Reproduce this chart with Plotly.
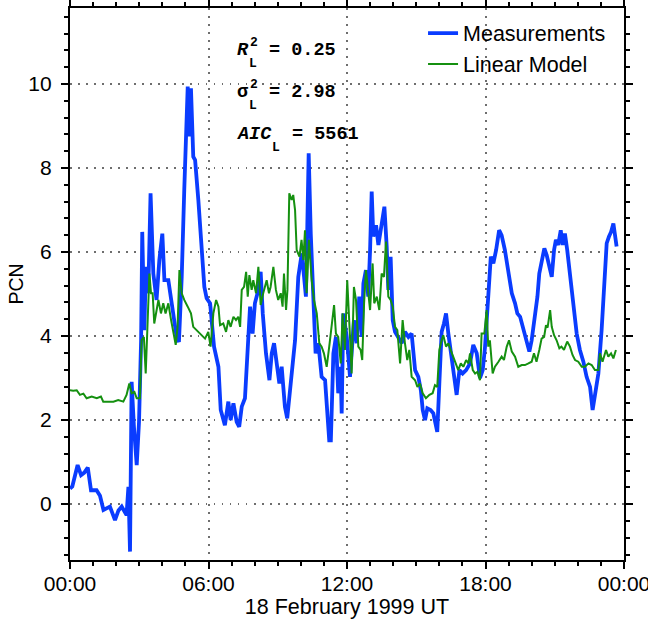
import pandas as pd
import plotly.graph_objects as go

# ---------------- data ----------------
meas_hours = [0.0, 0.1, 0.33, 0.48, 0.62, 0.77, 0.91, 1.15, 1.3, 1.45, 1.73, 1.95, 2.1, 2.24, 2.45, 2.53,
              2.6, 2.67, 2.77, 2.89, 2.99, 3.08, 3.13, 3.22, 3.29, 3.39, 3.49, 3.61, 3.75, 3.87, 4.0,
              4.09, 4.26, 4.38, 4.48, 4.62, 4.72, 4.84, 4.95, 5.1, 5.17, 5.24, 5.34, 5.42, 5.56, 5.7,
              5.82, 5.92, 6.07, 6.24, 6.43, 6.53, 6.71, 6.86, 6.96, 7.08, 7.22, 7.33, 7.44, 7.58, 7.65,
              7.8, 7.91, 8.01, 8.16, 8.26, 8.35, 8.49, 8.64, 8.74, 8.84, 8.95, 9.07, 9.17, 9.31, 9.41,
              9.53, 9.75, 9.89, 10.04, 10.14, 10.22, 10.28, 10.34, 10.43, 10.54, 10.64, 10.76, 10.9,
              11.05, 11.15, 11.23, 11.3, 11.41, 11.52, 11.62, 11.72, 11.77, 11.84, 11.99, 12.13, 12.2,
              12.3, 12.42, 12.53, 12.64, 12.71, 12.82, 12.92, 13.0, 13.07, 13.14, 13.26, 13.36, 13.46,
              13.53, 13.62, 13.72, 13.79, 13.89, 13.98, 14.08, 14.22, 14.37, 14.51, 14.66, 14.8, 14.95,
              15.09, 15.2, 15.28, 15.38, 15.48, 15.62, 15.74, 15.86, 15.91, 16.0, 16.1, 16.2, 16.29,
              16.39, 16.49, 16.61, 16.75, 16.87, 17.01, 17.16, 17.33, 17.47, 17.62, 17.76, 17.88, 17.98,
              18.12, 18.23, 18.34, 18.46, 18.59, 18.7, 18.84, 18.99, 19.14, 19.28, 19.38, 19.5, 19.61,
              19.76, 19.9, 20.0, 20.1, 20.19, 20.25, 20.33, 20.43, 20.55, 20.65, 20.75, 20.87, 20.97,
              21.05, 21.15, 21.26, 21.34, 21.44, 21.54, 21.66, 21.8, 21.95, 22.09, 22.24, 22.38, 22.53,
              22.64, 22.74, 22.89, 23.03, 23.13, 23.25, 23.35, 23.44, 23.54, 23.61, 23.68]
meas_pcn = [0.37, 0.42, 0.93, 0.69, 0.75, 0.87, 0.33, 0.33, 0.2, -0.14, -0.06, -0.38, -0.15, -0.06, -0.26, 0.41,
            -1.13, 2.91, 1.84, 0.93, 1.96, 3.9, 6.48, 4.14, 5.65, 5.02, 7.4, 5.49, 4.86, 5.81, 6.44,
            5.33, 5.33, 4.86, 4.54, 3.98, 3.86, 5.41, 7.48, 9.94, 8.75, 9.9, 8.27, 8.19, 7.24, 6.13,
            5.17, 4.9, 4.78, 3.75, 3.27, 2.24, 1.88, 2.44, 2.0, 2.4, 1.96, 1.84, 2.32, 2.52, 3.27,
            4.7, 4.06, 4.78, 5.1, 5.53, 4.54, 3.59, 2.95, 3.59, 3.83, 3.43, 2.87, 3.27, 2.32, 2.04,
            2.64, 3.9, 5.41, 5.97, 5.41, 4.94, 6.6, 8.35, 6.44, 5.02, 3.59, 3.83, 3.03,
            2.95, 2.16, 1.52, 1.52, 3.59, 3.98, 2.64, 3.27, 2.16, 4.54, 3.98, 3.03, 3.67,
            4.38, 3.83, 4.94, 3.98, 5.25, 5.57, 4.94, 6.05, 7.44, 6.37, 6.64, 6.17, 6.52,
            6.76, 7.08, 6.13, 5.1, 5.89, 4.38, 4.1, 3.98, 3.83, 4.1, 3.98, 4.06, 3.19,
            3.03, 2.71, 2.24, 2.0, 2.28, 2.24, 2.16, 1.84, 1.72, 2.87, 4.1, 4.3, 4.54,
            4.06, 3.67, 3.27, 2.6, 3.19, 3.11, 3.19, 3.35, 3.79, 3.59, 3.0, 3.19, 3.75,
            5.1, 5.89, 5.73, 6.05, 6.52, 6.4, 6.05, 5.49, 5.02, 4.78, 4.54, 4.46, 4.22,
            3.98, 3.63, 3.9, 4.3, 4.54, 4.94, 5.49, 5.81, 6.09, 5.93, 5.65, 5.41, 6.05,
            6.29, 6.17, 6.52, 6.17, 6.44, 6.05, 5.41, 4.7, 4.06, 3.67, 3.39, 3.03, 2.79,
            2.24, 2.55, 3.11, 4.14, 5.1, 6.21, 6.37, 6.48, 6.68, 6.44, 6.13]

model_hours = [0.0, 0.14, 0.29, 0.43, 0.58, 0.72, 0.94, 1.16, 1.34, 1.44, 1.66, 1.88, 2.09, 2.31, 2.45, 2.57,
               2.67, 2.79, 2.89, 3.03, 3.1, 3.2, 3.28, 3.37, 3.44, 3.51, 3.58, 3.65, 3.73, 3.83, 3.94,
               4.04, 4.14, 4.26, 4.38, 4.48, 4.58, 4.66, 4.74, 4.84, 4.95, 5.1, 5.24, 5.34, 5.49, 5.63,
               5.85, 5.99, 6.09, 6.21, 6.33, 6.43, 6.5, 6.64, 6.76, 6.86, 6.96, 7.08, 7.19, 7.29, 7.37,
               7.44, 7.54, 7.63, 7.7, 7.77, 7.87, 7.94, 8.06, 8.16, 8.26, 8.37, 8.52, 8.62, 8.69, 8.81,
               8.92, 9.02, 9.13, 9.21, 9.27, 9.36, 9.42, 9.5, 9.6, 9.67, 9.75, 9.82, 9.94, 10.03, 10.11,
               10.18, 10.25, 10.35, 10.47, 10.57, 10.69, 10.8, 10.9, 11.0, 11.12, 11.23, 11.34, 11.44,
               11.52, 11.62, 11.73, 11.81, 11.91, 12.01, 12.13, 12.2, 12.3, 12.39, 12.49, 12.59, 12.66,
               12.74, 12.82, 12.92, 13.0, 13.11, 13.18, 13.29, 13.4, 13.5, 13.6, 13.69, 13.79, 13.89,
               13.98, 14.08, 14.18, 14.3, 14.41, 14.51, 14.61, 14.7, 14.8, 14.95, 15.05, 15.16, 15.28,
               15.42, 15.57, 15.71, 15.81, 15.91, 16.0, 16.1, 16.17, 16.29, 16.39, 16.49, 16.61, 16.72,
               16.82, 16.93, 17.04, 17.16, 17.26, 17.33, 17.45, 17.55, 17.65, 17.76, 17.83, 17.95, 18.05,
               18.12, 18.19, 18.31, 18.41, 18.56, 18.7, 18.8, 18.92, 19.02, 19.14, 19.28, 19.42, 19.57,
               19.71, 19.86, 20.0, 20.1, 20.21, 20.33, 20.43, 20.54, 20.62, 20.69, 20.8, 20.87, 20.97,
               21.08, 21.2, 21.29, 21.4, 21.54, 21.66, 21.77, 21.88, 22.02, 22.17, 22.31, 22.46, 22.6,
               22.74, 22.89, 22.96, 23.07, 23.22, 23.32, 23.44, 23.54, 23.65]
model_pcn = [2.71, 2.7, 2.71, 2.6, 2.63, 2.52, 2.56, 2.52, 2.56, 2.44, 2.44, 2.44, 2.48, 2.44, 2.6, 2.87,
             2.64, 2.67, 2.52, 2.52, 3.9, 3.98, 3.11, 4.54, 5.49, 5.02, 5.02, 4.3, 4.54, 4.86, 4.54,
             4.78, 4.54, 4.78, 4.38, 4.06, 3.79, 4.22, 5.57, 5.02, 4.86, 4.7, 4.54, 4.22, 4.14, 4.06,
             3.94, 4.1, 3.75, 4.54, 4.86, 4.7, 4.26, 4.3, 4.1, 4.38, 4.22, 4.46, 4.38, 4.46, 4.22,
             5.1, 5.17, 5.53, 4.94, 5.45, 5.1, 5.33, 5.02, 5.65, 4.74, 5.02, 5.33, 5.02, 5.17, 5.65,
             5.1, 4.86, 5.02, 4.7, 5.49, 4.62, 5.1, 7.4, 7.24, 7.36, 7.0, 6.05, 5.89, 6.29, 5.81,
             6.52, 5.02, 6.29, 5.33, 4.86, 4.54, 3.83, 3.75, 3.59, 3.27, 3.75, 4.22, 4.74,
             4.06, 3.98, 3.35, 4.54, 3.67, 5.33, 3.98, 3.11, 5.17, 4.86, 3.75, 3.67, 3.43,
             4.78, 5.57, 5.1, 4.62, 5.73, 4.78, 4.94, 4.62, 5.49, 5.41, 6.25, 4.94, 4.86,
             4.7, 4.22, 4.14, 3.35, 4.38, 3.83, 3.43, 3.67, 3.03, 2.95, 2.79, 2.87, 2.64,
             2.52, 2.6, 2.64, 2.83, 2.79, 3.67, 3.9, 4.02, 3.75, 3.83, 3.67, 3.51, 3.35,
             3.19, 3.35, 3.27, 3.43, 3.35, 3.59, 3.19, 3.11, 3.15, 2.95, 4.06, 4.06, 4.62,
             3.75, 3.9, 3.11, 3.27, 3.39, 3.51, 3.43, 3.75, 3.9, 3.63, 3.51, 3.27, 3.31,
             3.31, 3.35, 3.39, 3.59, 3.39, 3.67, 3.94, 3.98, 4.26, 4.2, 4.62, 4.22, 4.02,
             3.9, 3.71, 3.75, 3.67, 3.87, 3.75, 3.55, 3.43, 3.39, 3.27, 3.27, 3.35, 3.31,
             3.19, 3.19, 3.59, 3.39, 3.67, 3.51, 3.59, 3.47, 3.67]

day_start = "1999-02-18 00:00"
day_end = "1999-02-19 00:00"
series_names = ["Measurements", "Linear Model"]
stat_symbols = ["<i>R</i>", "σ", "<i>AIC</i>"]
stat_values = ["0.25", "2.98", "5561"]
x_title = "18 February 1999 UT"
y_title = "PCN"

base = pd.Timestamp(day_start)
meas_t = base + pd.to_timedelta(meas_hours, unit="h")
model_t = base + pd.to_timedelta(model_hours, unit="h")

fig = go.Figure()
fig.add_trace(go.Scatter(x=meas_t, y=meas_pcn, mode="lines", name=series_names[0],
                         line=dict(color="#0a3cff", width=3.8)))
fig.add_trace(go.Scatter(x=model_t, y=model_pcn, mode="lines", name=series_names[1],
                         line=dict(color="#159010", width=2)))

# plot-area geometry in pixels (for annotation placement)
L, R, T, B = 70, 624, 8, 560
def px(xp, yp):
    return (xp - L) / (R - L), (B - yp) / (B - T)

mono = "Liberation Mono, Courier New, monospace"
ann = []
def add_text(text, xp, yp, size):
    ax, ay = px(xp, yp)
    ann.append(dict(x=ax, y=ay, xref="paper", yref="paper", xanchor="left", yanchor="middle",
                    showarrow=False, text=f"<b>{text}</b>",
                    font=dict(family=mono, size=size, color="black")))

# symbol glyph-center y, x of subscript, x of the "= value" part, has squared superscript
rows = [(50, 247, 267, True), (92, 247, 267, True), (134, 270, 290, False)]
for sym, val, (cy, sub_x, eq_x, sq) in zip(stat_symbols, stat_values, rows):
    add_text(sym, 235, cy, 18.5)
    add_text("L", sub_x, cy + 13, 13)
    if sq:
        add_text("2", sub_x + 1, cy - 7, 13)
    add_text(f"= {val}", eq_x, cy, 18.5)

axis_common = dict(showline=True, linecolor="black", linewidth=2.2, mirror="ticks",
                   ticks="outside", ticklen=7, tickwidth=2, tickcolor="black",
                   showgrid=True, gridcolor="#6e6e6e", gridwidth=1.5, griddash="1.5px,6.5px",
                   zeroline=False, automargin=False, ticklabeloverflow="allow",
                   tickfont=dict(size=21, color="black"))

fig.update_layout(
    width=648, height=621,
    margin=dict(l=L, r=648 - R, t=T, b=621 - B),
    plot_bgcolor="white", paper_bgcolor="white",
    font=dict(family="Liberation Sans, Arial, Helvetica, sans-serif", size=21, color="black"),
    legend=dict(x=0.9766, xanchor="right", y=0.9917, yanchor="top", bgcolor="rgba(0,0,0,0)",
                font=dict(size=21.5), borderwidth=0),
    annotations=ann,
    xaxis=dict(type="date", range=[day_start, day_end], tickformat="%H:%M",
               tick0=day_start, dtick=6 * 3600 * 1000, ticklabelstandoff=-3,
               minor=dict(dtick=3600 * 1000, ticks="outside", ticklen=4, tickwidth=1.5,
                          tickcolor="black", showgrid=False),
               title=dict(text=x_title, standoff=5, font=dict(size=21.5)), **axis_common),
    yaxis=dict(range=[-1.33, 11.81], tick0=0, dtick=2, ticklabelstandoff=5,
               minor=dict(tick0=0, dtick=0.4, ticks="outside", ticklen=4, tickwidth=1.5,
                          tickcolor="black", showgrid=False),
               title=dict(text=y_title, standoff=0, font=dict(size=19.5)), **axis_common),
)

fig.write_html("out.html")
